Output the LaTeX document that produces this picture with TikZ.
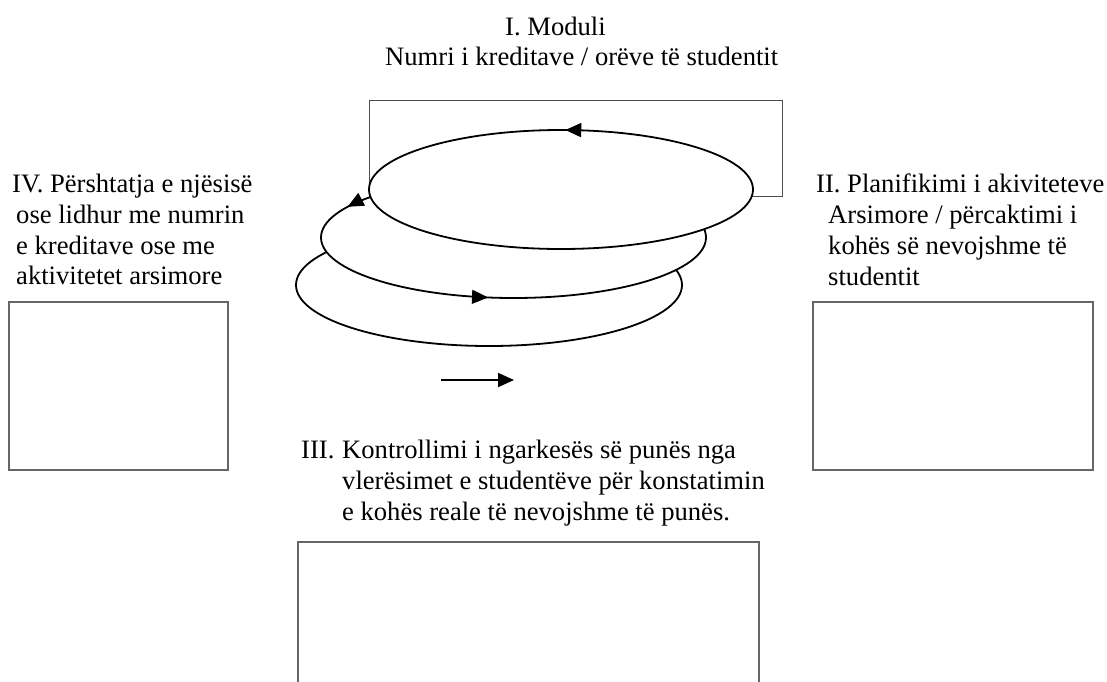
\documentclass[tikz,border=0pt]{standalone}
\usepackage{fontspec}
\setmainfont{Liberation Serif}
\usetikzlibrary{arrows.meta,decorations.markings}

\begin{document}
\begin{tikzpicture}[x=1pt,y=1pt,
    txt/.style={anchor=north west,inner sep=0pt,align=left,font=\fontsize{26.6}{30.7}\selectfont},
    ring/.style={line width=1.8pt,fill=white},
    boxline/.style={draw=black!60,line width=1.3pt},
    arrowat/.style={postaction={decorate,decoration={markings,
      mark=at position #1 with {\arrow{Triangle[length=16pt,width=14pt]}}}}}]
      \useasboundingbox (0,0) rectangle (1107,-681);
      \clip (0,0) rectangle (1107,-681);

      \node[txt] (modtitle) at (505,-17) {I. Moduli};
      \node[txt] (modsub) at (385,-47) {Numri i kreditave / orëve të studentit};

      \draw[draw=black!70,line width=1pt] (369,-100) rectangle (782,-196);
      \draw[ring] (489,-285) ellipse (193pt and 61pt);
      \draw[ring,arrowat=0.45,arrowat=0.72] (513.5,-237.5) ellipse (192.5pt and 60.5pt);
      \draw[ring,arrowat=0.245] (561,-189.5) ellipse (192pt and 59.5pt);

      \node[txt] (adapt) at (12,-174) {IV. Përshtatja e njësisë\\
        \hspace*{4pt}ose lidhur me numrin\\
        \hspace*{4pt}e kreditave ose me\\
        \hspace*{4pt}aktivitetet arsimore};
      \draw[boxline] (9,-302) rectangle (228,-470);

      \node[txt] (plan) at (816,-174) {II. Planifikimi i akiviteteve\\
        \hspace*{12pt}Arsimore / përcaktimi i\\
        \hspace*{12pt}kohës së nevojshme të\\
        \hspace*{12pt}studentit};
      \draw[boxline] (813,-302) rectangle (1093,-470);

      \coordinate (flowa) at (441,-380);
      \coordinate (flowb) at (514,-380);
      \draw[line width=1.8pt,-{Triangle[length=16pt,width=14pt]}] (flowa) -- (flowb);

      \node[txt] (check) at (301,-440) {\makebox[41pt][l]{III.}Kontrollimi i ngarkesës së punës nga\\
        \hspace*{41pt}vlerësimet e studentëve për konstatimin\\
        \hspace*{41pt}e kohës reale të nevojshme të punës.};
      \draw[boxline] (298,-542) rectangle (759,-720);
\end{tikzpicture}
\end{document}
